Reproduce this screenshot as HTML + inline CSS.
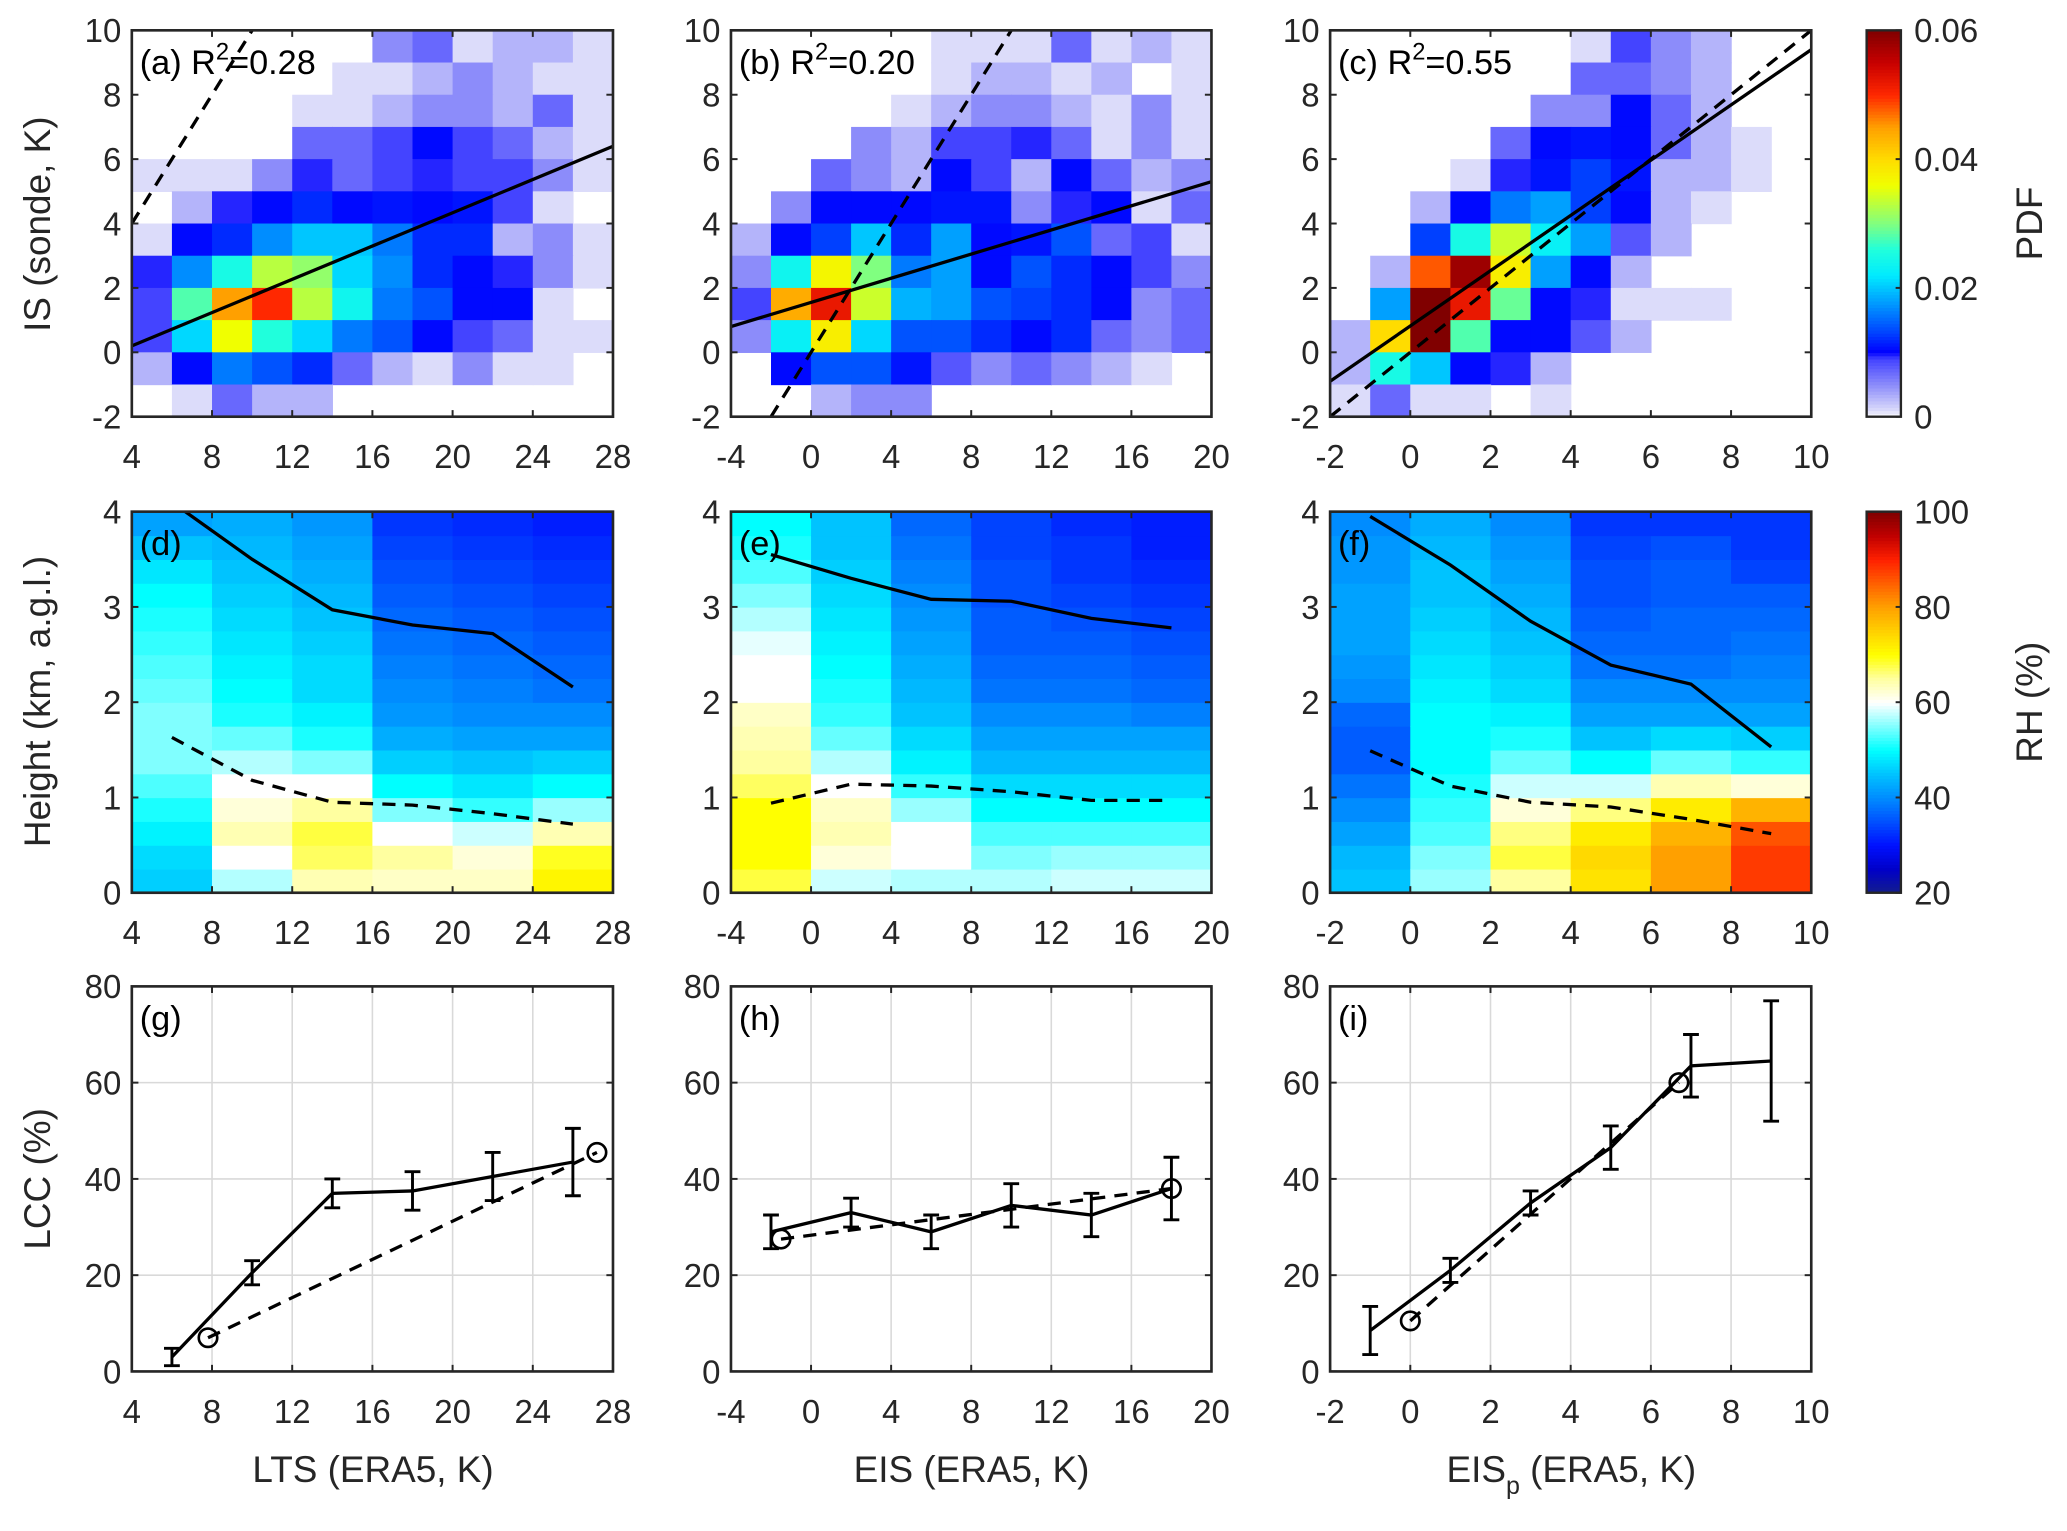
<!DOCTYPE html>
<html><head><meta charset="utf-8"><style>
html,body{margin:0;padding:0;background:#fff;}
svg{display:block;font-family:"Liberation Sans",Arial,sans-serif;}
</style></head><body>
<svg id="fig" xmlns="http://www.w3.org/2000/svg" width="2067" height="1531" viewBox="0 0 1568 1161" preserveAspectRatio="none"></svg>
<script>
// ---------- DATA ----------
const pdfA = [
[0,0,0,0,0,0,0.005,0.007,0.001,0.003,0.003,0.001],
[0,0,0,0,0,0.001,0.001,0.003,0.005,0.003,0.001,0.001],
[0,0,0,0,0.001,0.001,0.003,0.005,0.005,0.003,0.007,0.001],
[0,0,0,0,0.007,0.007,0.009,0.0105,0.009,0.007,0.003,0.001],
[0.001,0.001,0.001,0.005,0.0095,0.007,0.009,0.0095,0.009,0.009,0.005,0.001],
[0,0.003,0.0095,0.0105,0.012,0.0105,0.011,0.0105,0.011,0.009,0.001,0],
[0.001,0.0105,0.012,0.017,0.02,0.02,0.016,0.012,0.012,0.003,0.005,0.001],
[0.0095,0.017,0.025,0.033,0.031,0.021,0.017,0.012,0.0105,0.0095,0.005,0.001],
[0.009,0.028,0.045,0.05,0.033,0.024,0.016,0.014,0.0105,0.0105,0.001,0],
[0.009,0.021,0.036,0.026,0.021,0.016,0.014,0.0105,0.009,0.007,0.001,0.001],
[0.003,0.0105,0.016,0.014,0.012,0.007,0.003,0.001,0.005,0.001,0.001,0],
[0,0.001,0.007,0.003,0.003,0,0,0,0,0,0,0]];
const pdfB = [
[0,0,0,0,0,0.001,0.001,0.001,0.007,0.001,0.003,0.001],
[0,0,0,0,0,0.001,0.003,0.003,0.001,0.003,0,0.001],
[0,0,0,0,0.001,0.003,0.005,0.005,0.003,0.001,0.005,0.001],
[0,0,0,0.005,0.003,0.009,0.009,0.0095,0.007,0.001,0.005,0.001],
[0,0,0.007,0.005,0.003,0.0105,0.009,0.003,0.0105,0.007,0.003,0.005],
[0,0.005,0.0105,0.0105,0.0105,0.011,0.011,0.005,0.0095,0.0105,0.001,0.007],
[0.003,0.0105,0.013,0.02,0.012,0.018,0.0105,0.011,0.014,0.007,0.009,0.001],
[0.005,0.024,0.037,0.03,0.016,0.018,0.0105,0.014,0.012,0.0105,0.009,0.005],
[0.009,0.044,0.052,0.034,0.019,0.018,0.014,0.013,0.012,0.0105,0.005,0.007],
[0.005,0.023,0.038,0.021,0.014,0.014,0.012,0.0105,0.012,0.007,0.005,0.007],
[0,0.0105,0.014,0.014,0.011,0.008,0.005,0.007,0.005,0.003,0.001,0],
[0,0,0.003,0.005,0.005,0,0,0,0,0,0,0]];
const pdfC = [
[0,0,0,0,0,0,0.001,0.009,0.005,0.003,0,0],
[0,0,0,0,0,0,0.007,0.007,0.005,0.003,0,0],
[0,0,0,0,0,0.005,0.005,0.0105,0.007,0.003,0,0],
[0,0,0,0,0.007,0.0105,0.011,0.0105,0.007,0.003,0.001,0],
[0,0,0,0.001,0.0095,0.011,0.013,0.011,0.003,0.003,0.001,0],
[0,0,0.003,0.0105,0.016,0.018,0.013,0.0105,0.003,0.001,0,0],
[0,0,0.013,0.025,0.034,0.023,0.018,0.008,0.003,0,0,0],
[0,0.003,0.048,0.058,0.038,0.018,0.0105,0.003,0,0,0,0],
[0,0.018,0.06,0.052,0.029,0.0105,0.0095,0.001,0.001,0.001,0,0],
[0.003,0.04,0.06,0.028,0.0105,0.0105,0.008,0.003,0,0,0,0],
[0.003,0.025,0.02,0.0105,0.0095,0.003,0,0,0,0,0,0],
[0.001,0.007,0.001,0.001,0,0.001,0,0,0,0,0,0]];
const fitA = [4,0.2,28,6.4], oneA = [4,4,10,10];
const fitB = [-4,0.8,20,5.3], oneB = [-2,-2,10,10];
const fitC = [-2,-0.9,10,9.4], oneC = [-2,-2,10,10];
const rhD = [
[46,47,49,51,53,55,55,55,54,53,52,51,50,48,45,42],
[57,60,64,62,60,57,54,51,50,49,48,47,46,45,44,43],
[64,67,68,65,60,55,51,49,47,47,46,45,44,43,42,41],
[63,65,60,55,50,46,43,41,40,39,38,37,36,35,34,33],
[63,62,58,52,48,45,42,40,39,38,37,36,35,34,33,32],
[71,69,64,56,50,46,42,40,38,37,36,35,34,33,32,31]];
const rhE = [
[68,70,70,70,67,65,64,63,60,60,59,57,55,53,51,50],
[58,62,64,63,60,57,54,52,51,50,49,48,47,46,45,45],
[57,60,60,56,52,49,47,45,44,43,42,41,40,39,38,37],
[57,55,53,50,47,44,42,40,38,37,36,36,35,35,34,34],
[58,56,53,50,47,44,42,40,38,37,36,35,34,33,33,32],
[58,56,53,50,47,44,42,39,37,36,35,34,33,32,31,31]];
const rhF = [
[45,44,42,40,38,36,36,37,40,41,42,42,42,41,41,40],
[56,55,53,52,51,50,50,50,49,48,47,46,45,45,44,43],
[65,68,66,62,58,54,51,49,47,46,45,44,43,42,41,40],
[73,74,72,66,58,50,45,42,40,38,37,36,35,35,34,33],
[80,80,78,72,64,54,47,42,40,38,37,37,36,36,35,33],
[88,88,86,78,62,52,46,42,40,39,38,37,36,34,33,33]];
const lineXD = [6,10,14,18,22,26], topD = [4.1,3.5,2.97,2.81,2.72,2.16], baseD = [1.63,1.18,0.95,0.92,0.83,0.72];
const lineXE = [-2,2,6,10,14,18], topE = [3.55,3.30,3.08,3.06,2.88,2.78], baseE = [0.94,1.14,1.12,1.06,0.97,0.97];
const lineXF = [-1,1,3,5,7,9], topF = [3.95,3.44,2.85,2.39,2.19,1.53], baseF = [1.49,1.12,0.95,0.90,0.77,0.62];
const lccXG = [6,10,14,18,22,26], lccG = [3,20.5,37,37.5,40.5,43.5], errG = [1.8,2.5,3,4,5,7];
const obsXG = [7.8,27.2], obsG = [7,45.5];
const lccXH = [-2,2,6,10,14,18], lccH = [29,33,29,34.5,32.5,38], errH = [3.5,3,3.5,4.5,4.5,6.5];
const obsXH = [-1.5,18], obsH = [27.5,38];
const lccXI = [-1,1,3,5,7,9], lccI = [8.5,21,35,46.5,63.5,64.5], errI = [5,2.5,2.5,4.5,6.5,12.5];
const obsXI = [0,6.7], obsI = [10.5,60];
const ticksLTS = [4,8,12,16,20,24,28], ticksEIS = [-4,0,4,8,12,16,20], ticksEISp = [-2,0,2,4,6,8,10];
const ticksIS = [-2,0,2,4,6,8,10], ticksH = [0,1,2,3,4], ticksLCC = [0,20,40,60,80];
const ticksPDF = [0,0.02,0.04,0.06], ticksRH = [20,40,60,80,100];

// ---------- RENDER ----------
const NS = "http://www.w3.org/2000/svg";
const svg = document.getElementById('fig');
function mk(tag, attrs, parent){const e=document.createElementNS(NS,tag);for(const k in attrs)e.setAttribute(k,attrs[k]);(parent||svg).appendChild(e);return e;}
function lerpStops(stops,v){
  if(v<=stops[0][0])return 'rgb('+stops[0][1].join(',')+')';
  for(let i=1;i<stops.length;i++){if(v<=stops[i][0]){const a=stops[i-1],b=stops[i];const t=(v-a[0])/(b[0]-a[0]);
    return 'rgb('+[0,1,2].map(k=>Math.round(a[1][k]+(b[1][k]-a[1][k])*t)).join(',')+')';}}
  const l=stops[stops.length-1][1];return 'rgb('+l.join(',')+')';
}
const pdfStops=[[0,[255,255,255]],[0.001,[220,220,250]],[0.005,[140,140,250]],[0.009,[68,68,255]],[0.0101,[0,0,255]],[0.013,[0,64,255]],[0.018,[0,160,255]],[0.022,[0,235,255]],[0.026,[32,255,220]],[0.03,[128,255,128]],[0.036,[240,255,0]],[0.04,[255,220,0]],[0.045,[255,160,0]],[0.05,[255,40,0]],[0.055,[200,0,0]],[0.06,[128,0,0]]];
const rhStops=[[20,[20,30,140]],[25,[0,0,200]],[30,[0,16,255]],[35,[0,80,255]],[40,[0,140,255]],[45,[0,195,255]],[50,[0,255,255]],[55,[128,255,255]],[60,[255,255,255]],[65,[255,255,160]],[70,[255,255,0]],[75,[255,208,0]],[80,[255,160,0]],[85,[255,96,0]],[90,[255,32,0]],[95,[192,0,0]],[100,[128,0,0]]];
const pdfColor=v=>lerpStops(pdfStops,v), rhColor=v=>lerpStops(rhStops,v);

const colX=[[100,465],[554.5,919],[1009,1374]];
const rowY=[[23,316],[388,677],[748,1040]];
let clipId=0;
function axes(c,r,xmin,xmax,ymin,ymax){
  const [x0,x1]=colX[c],[y0,y1]=rowY[r];
  const sx=v=>x0+(v-xmin)/(xmax-xmin)*(x1-x0);
  const sy=v=>y1-(v-ymin)/(ymax-ymin)*(y1-y0);
  const id='clip'+(clipId++);
  const cp=mk('clipPath',{id:id});mk('rect',{x:x0,y:y0,width:x1-x0,height:y1-y0},cp);
  const g=mk('g',{'clip-path':'url(#'+id+')'});
  return {sx,sy,g,x0,x1,y0,y1};
}
function frame(A,xt,yt,name,grid){
  const {sx,sy,x0,x1,y0,y1}=A;
  if(grid){
    xt.forEach(v=>{const l=mk('line',{x1:sx(v),x2:sx(v),y1:y0,y2:y1,stroke:'#d9d9d9','stroke-width':1.2});});
    yt.forEach(v=>{const l=mk('line',{x1:x0,x2:x1,y1:sy(v),y2:sy(v),stroke:'#d9d9d9','stroke-width':1.2});});
  }
  const f=mk('rect',{x:x0,y:y0,width:x1-x0,height:y1-y0,fill:'none',stroke:'#262626','stroke-width':2});
  
  xt.forEach(v=>{
    mk('line',{x1:sx(v),x2:sx(v),y1:y1,y2:y1-5,stroke:'#262626','stroke-width':1.5});
    mk('line',{x1:sx(v),x2:sx(v),y1:y0,y2:y0+5,stroke:'#262626','stroke-width':1.5});
    const t=mk('text',{x:sx(v),y:y1+39,'font-size':25,'text-anchor':'middle',fill:'#262626'});t.textContent=String(v);
    
  });
  yt.forEach(v=>{
    mk('line',{x1:x0,x2:x0+5,y1:sy(v),y2:sy(v),stroke:'#262626','stroke-width':1.5});
    mk('line',{x1:x1,x2:x1-5,y1:sy(v),y2:sy(v),stroke:'#262626','stroke-width':1.5});
    const t=mk('text',{x:x0-8,y:sy(v)+9,'font-size':25,'text-anchor':'end',fill:'#262626'});t.textContent=String(v);
    
  });
}
function heat(A,data,xmin,dx,ymax,dy){
  data.forEach((row,i)=>row.forEach((v,j)=>{
    if(v<=0)return;
    const xa=xmin+j*dx, ya=ymax-i*dy;
    const r=mk('rect',{x:A.sx(xa),y:A.sy(ya),width:A.sx(xa+dx)-A.sx(xa)+0.5,height:A.sy(ya-dy)-A.sy(ya)+0.5,fill:pdfColor(v)},A.g);
    
  }));
}
function rhHeat(A,data,xmin,dx){
  data.forEach((col,j)=>col.forEach((v,k)=>{
    const xa=xmin+j*dx, za=k*0.25;
    const r=mk('rect',{x:A.sx(xa),y:A.sy(za+0.25),width:A.sx(xa+dx)-A.sx(xa)+0.5,height:A.sy(za)-A.sy(za+0.25)+0.5,fill:rhColor(v)},A.g);
    
  }));
}
function poly(A,xs,ys,dash,name,w){
  const p=mk('polyline',{points:xs.map((x,i)=>A.sx(x)+','+A.sy(ys[i])).join(' '),fill:'none',stroke:'#000','stroke-width':w||2.5,'stroke-dasharray':dash?'10,7':'none'},A.g);
  
}
function panelLabel(A,txt,sup,rest){
  const t=mk('text',{x:A.x0+6,y:A.y0+33,'font-size':26,fill:'#000'});
  
  t.appendChild(document.createTextNode(txt));
  if(sup){const s=mk('tspan',{dy:-11,'font-size':18},t);s.textContent=sup;const r2=mk('tspan',{dy:11},t);r2.textContent=rest;}
}
const specs1=[[pdfA,4,28,2,fitA,oneA,ticksLTS,'(a) R','=0.28'],[pdfB,-4,20,2,fitB,oneB,ticksEIS,'(b) R','=0.20'],[pdfC,-2,10,1,fitC,oneC,ticksEISp,'(c) R','=0.55']];
specs1.forEach((s,c)=>{
  const A=axes(c,0,s[1],s[2],-2,10);
  heat(A,s[0],s[1],s[3],10,1);
  poly(A,[s[4][0],s[4][2]],[s[4][1],s[4][3]],false,'regression-line');
  poly(A,[s[5][0],s[5][2]],[s[5][1],s[5][3]],true,'one-to-one-line');
  frame(A,s[6],ticksIS,'pdf-panel',false);
  panelLabel(A,s[7],'2',s[8]);
});
const specs2=[[rhD,4,28,4,lineXD,topD,baseD,ticksLTS,'(d)'],[rhE,-4,20,4,lineXE,topE,baseE,ticksEIS,'(e)'],[rhF,-2,10,2,lineXF,topF,baseF,ticksEISp,'(f)']];
specs2.forEach((s,c)=>{
  const A=axes(c,1,s[1],s[2],0,4);
  rhHeat(A,s[0],s[1],s[3]);
  poly(A,s[4],s[5],false,'inversion-top-line');
  poly(A,s[4],s[6],true,'inversion-base-line');
  frame(A,s[7],ticksH,'rh-panel',false);
  panelLabel(A,s[8]);
});
const specs3=[[lccXG,lccG,errG,obsXG,obsG,4,28,ticksLTS,'(g)'],[lccXH,lccH,errH,obsXH,obsH,-4,20,ticksEIS,'(h)'],[lccXI,lccI,errI,obsXI,obsI,-2,10,ticksEISp,'(i)']];
specs3.forEach((s,c)=>{
  const A=axes(c,2,s[5],s[6],0,80);
  frame(A,s[7],ticksLCC,'lcc-panel',true);
  const g=A.g; svg.appendChild(g);
  poly(A,s[0],s[1],false,'lcc-mean-line',2.5);
  s[0].forEach((x,i)=>{
    const X=A.sx(x),ya=A.sy(s[1][i]-s[2][i]),yb=A.sy(s[1][i]+s[2][i]);
    const e=mk('path',{d:`M${X},${ya}V${yb}M${X-6},${ya}H${X+6}M${X-6},${yb}H${X+6}`,stroke:'#000','stroke-width':2.2,fill:'none'},g);
    
  });
  poly(A,s[3],s[4],true,'lcc-observed-line',2.5);
  s[3].forEach((x,i)=>{const m=mk('circle',{cx:A.sx(x),cy:A.sy(s[4][i]),r:7,fill:'none',stroke:'#000','stroke-width':2},g);});
  panelLabel(A,s[8]);
});
function colorbar(y0,y1,vmin,vmax,fn,ticks,label,name){
  const x0=1416,x1=1442,n=120;
  for(let i=0;i<n;i++){const v=vmin+(i+0.5)/n*(vmax-vmin);const yy=y1-(i+1)/n*(y1-y0);
    mk('rect',{x:x0,y:yy,width:x1-x0,height:(y1-y0)/n+0.6,fill:fn(v)});}
  const f=mk('rect',{x:x0,y:y0,width:x1-x0,height:y1-y0,fill:'none',stroke:'#262626','stroke-width':1.8});
  
  ticks.forEach(v=>{const y=y1-(v-vmin)/(vmax-vmin)*(y1-y0);
    mk('line',{x1:x1,x2:x1-4,y1:y,y2:y,stroke:'#262626','stroke-width':1.5});
    const t=mk('text',{x:1452,y:y+9,'font-size':25,fill:'#262626'});t.textContent=String(v);
    });
  const cy=(y0+y1)/2;
  const t=mk('text',{x:1549,y:cy,'font-size':28,'text-anchor':'middle',fill:'#262626',transform:`rotate(-90 1549 ${cy})`});
  t.textContent=label;
}
colorbar(23,316,0,0.06,pdfColor,ticksPDF,'PDF','pdf-colorbar');
colorbar(388,677,20,100,rhColor,ticksRH,'RH (%)','rh-colorbar');
function ytitle(txt,cy,name){const t=mk('text',{x:38,y:cy,'font-size':28,'text-anchor':'middle',fill:'#262626',transform:`rotate(-90 38 ${cy})`});t.textContent=txt;}
ytitle('IS (sonde, K)',170,'y-axis-title-is');
ytitle('Height (km, a.g.l.)',532,'y-axis-title-height');
ytitle('LCC (%)',894,'y-axis-title-lcc');
function xtitle(cx,name){const t=mk('text',{x:cx,y:1124,'font-size':28,'text-anchor':'middle',fill:'#262626'});return t;}
xtitle(283,'x-axis-title-lts').textContent='LTS (ERA5, K)';
xtitle(737,'x-axis-title-eis').textContent='EIS (ERA5, K)';
const t3=xtitle(1192,'x-axis-title-eisp');t3.appendChild(document.createTextNode('EIS'));
const sb=mk('tspan',{dy:9,'font-size':19},t3);sb.textContent='p';
const rs=mk('tspan',{dy:-9},t3);rs.textContent=' (ERA5, K)';
</script>
</body></html>
